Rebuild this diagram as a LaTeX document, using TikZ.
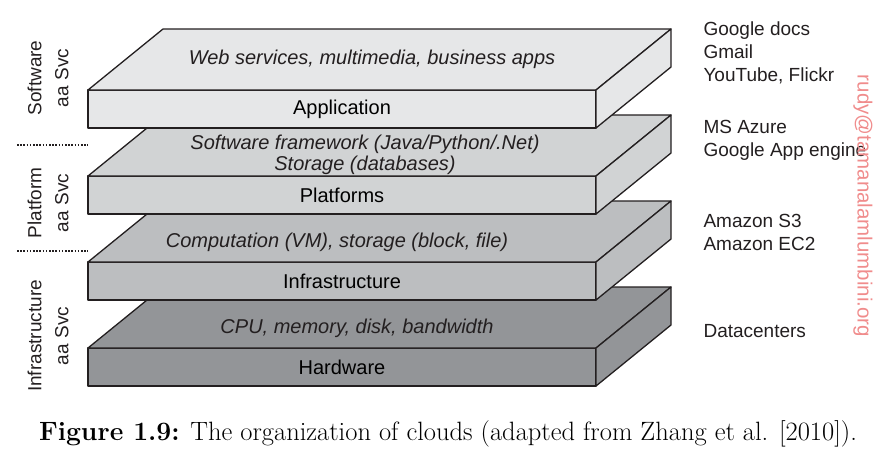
\documentclass[tikz,border=0pt]{standalone}
\usepackage{fontspec}
\setsansfont{Liberation Sans}
\usepackage{xcolor}
\usepackage{tikz}
\usetikzlibrary{positioning}

\definecolor{edge}{HTML}{231F20}
\definecolor{appgray}{HTML}{E6E7E8}
\definecolor{platgray}{HTML}{D1D3D4}
\definecolor{infgray}{HTML}{BCBEC0}
\definecolor{hwgray}{HTML}{939598}
\definecolor{mark}{HTML}{F08C8C}

\begin{document}
\begin{tikzpicture}[
		x=1pt, y=-1pt,
		face/.style={draw=edge, line width=1.3pt, line join=round},
		front/.style={rectangle, face, minimum width=508pt, minimum height=38pt, inner sep=0pt, outer sep=0pt, font=\sffamily\fontsize{20}{22}\selectfont},
		toptext/.style={align=center, font=\sffamily\itshape\fontsize{20}{21.5}\selectfont, text=edge},
		sidelabel/.style={rotate=90, align=center, font=\sffamily\fontsize{19}{27}\selectfont, text=edge},
		product/.style={anchor=west, align=left, font=\sffamily\fontsize{19}{23}\selectfont, text=edge},
		sepline/.style={draw=edge, line width=2pt, dash pattern=on 1.6pt off 1.6pt},
		]
		\useasboundingbox (0,0) rectangle (891,472);

		%Hardware
		\node[front, fill=hwgray]	(hw)	at (342,367)	{\raisebox{-5pt}{Hardware}};
		\draw[face, fill=hwgray]	(hw.north west) -- ++(75,-61) -- ++(508,0) -- (hw.north east) -- cycle;
		\draw[face, fill=hwgray]	(hw.north east) -- ++(75,-61) -- ++(0,38) -- (hw.south east) -- cycle;
		\node[toptext]	(hw_top)	at (357,328)	{CPU, memory, disk, bandwidth};

		%Infrastructure
		\node[front, fill=infgray]	(infra)	[above=48pt of hw]	{Infrastructure};
		\draw[face, fill=infgray]	(infra.north west) -- ++(75,-61) -- ++(508,0) -- (infra.north east) -- cycle;
		\draw[face, fill=infgray]	(infra.north east) -- ++(75,-61) -- ++(0,38) -- (infra.south east) -- cycle;
		\node[toptext]	(infra_top)	at (337,242)	{Computation (VM), storage (block, file)};

		%Platforms
		\node[front, fill=platgray]	(plat)	[above=48pt of infra]	{Platforms};
		\draw[face, fill=platgray]	(plat.north west) -- ++(75,-61) -- ++(508,0) -- (plat.north east) -- cycle;
		\draw[face, fill=platgray]	(plat.north east) -- ++(75,-61) -- ++(0,38) -- (plat.south east) -- cycle;
		\node[toptext]	(plat_top)	at (365,155)	{Software framework (Java/Python/.Net)\\Storage (databases)};

		%Application
		\node[front, fill=appgray]	(app)	[above=48pt of plat]	{Application};
		\draw[face, fill=appgray]	(app.north west) -- ++(75,-61) -- ++(508,0) -- (app.north east) -- cycle;
		\draw[face, fill=appgray]	(app.north east) -- ++(75,-61) -- ++(0,38) -- (app.south east) -- cycle;
		\node[toptext]	(app_top)	at (372,59)	{Web services, multimedia, business apps};

		%Service levels
		\node[sidelabel]	(saas)	at (48,78)	{Software\\aa Svc};
		\node[sidelabel]	(paas)	at (48,203)	{Platform\\aa Svc};
		\node[sidelabel]	(iaas)	at (48,336)	{Infrastructure\\aa Svc};
		\coordinate	(sep_1)	at (17,145);
		\coordinate	(sep_2)	at (17,251);
		\draw[sepline]	(sep_1) -- (sep_1 -| app.west);
		\draw[sepline]	(sep_2) -- (sep_2 -| app.west);

		%Examples
		\node[product]	(ex_app)	at (700,53)	{Google docs\\Gmail\\YouTube, Flickr};
		\node[product]	(ex_plat)	at (700,140)	{MS Azure\\Google App engine};
		\node[product]	(ex_infra)	at (700,232)	{Amazon S3\\Amazon EC2};
		\node[product]	(ex_hw)	at (700,331)	{Datacenters};

		%Watermark and caption
		\node[rotate=-90, text=mark, font=\sffamily\fontsize{20.5}{20}\selectfont]	(mark)	at (863,206)	{rudy@tamanalamlumbini.org};
		\node[font=\fontsize{26.5}{28}\selectfont]	(caption)	at (448,434)	{\textbf{Figure 1.9:} The organization of clouds (adapted from Zhang et al. [2010]).};
	\end{tikzpicture}
\end{document}
